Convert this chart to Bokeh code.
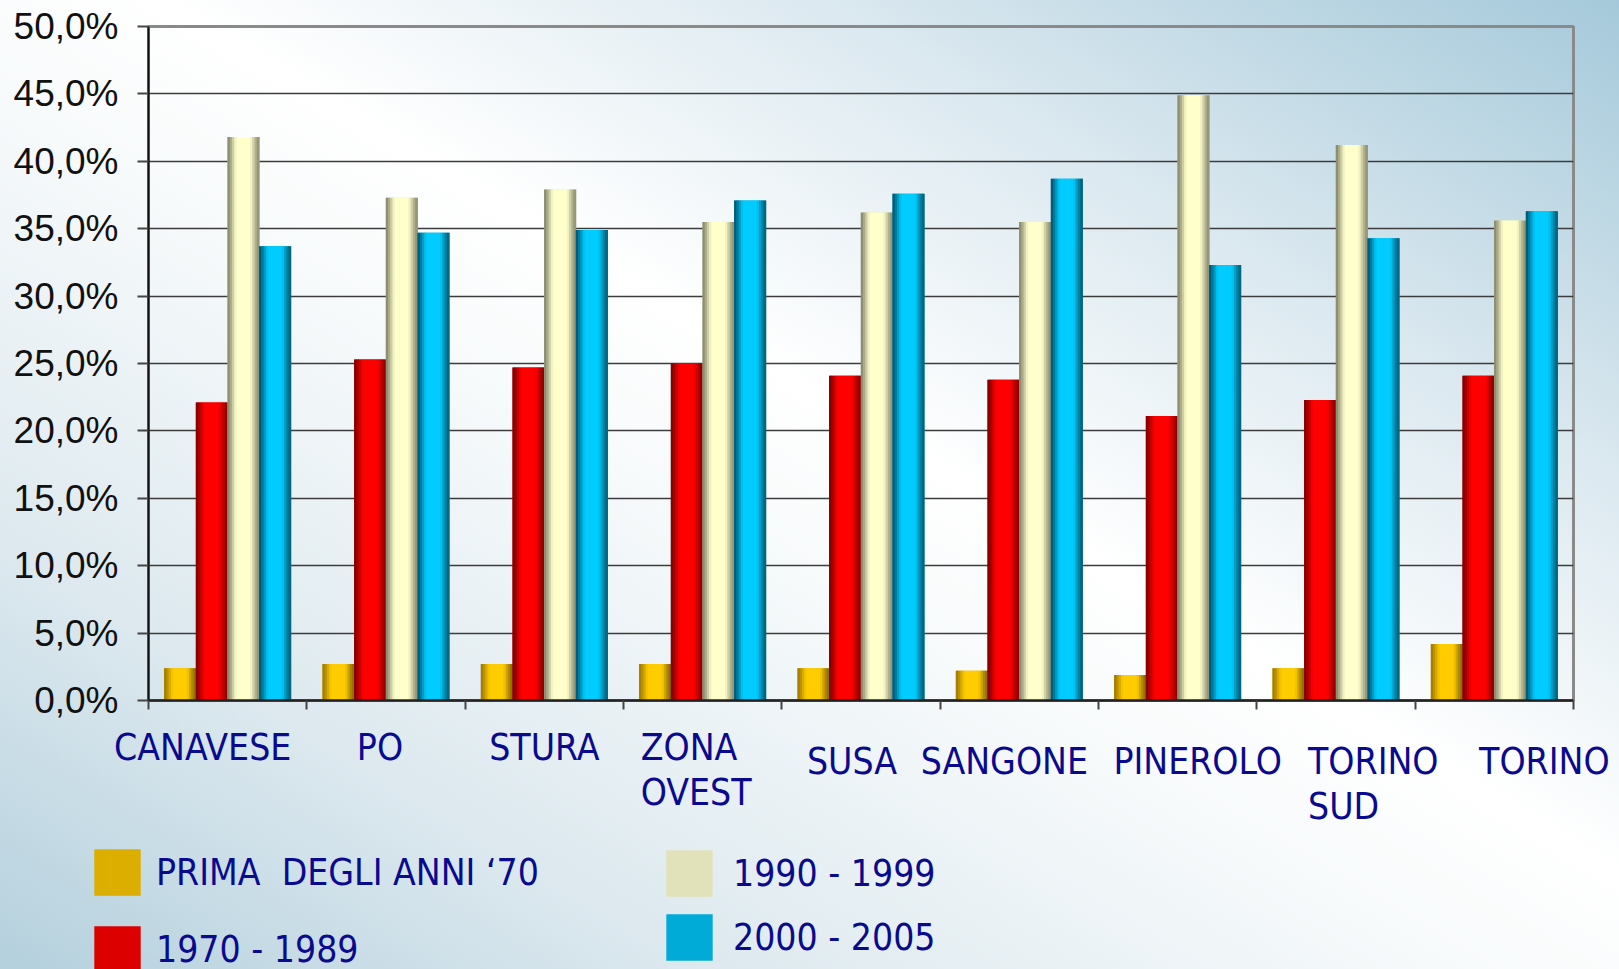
import numpy as np
from bokeh.plotting import figure
from bokeh.layouts import column
from bokeh.models import (ColumnDataSource, Range1d, FixedTicker, Legend, LegendItem,
                          CDSView, IndexFilter)
from bokeh.transform import dodge
from bokeh.embed import file_html
from bokeh.resources import INLINE

# ---------------- data ----------------
categories = ["CANAVESE", "PO", "STURA", "ZONA\nOVEST", "SUSA", "SANGONE",
              "PINEROLO", "TORINO\nSUD", "TORINO"]
series_names = ["PRIMA  DEGLI ANNI \u201870", "1970 - 1989", "1990 - 1999", "2000 - 2005"]
prima_anni_70 = [2.4, 2.7, 2.7, 2.7, 2.4, 2.2, 1.9, 2.4, 4.2]
anni_1970_1989 = [22.1, 25.3, 24.7, 25.0, 24.1, 23.8, 21.1, 22.3, 24.1]
anni_1990_1999 = [41.8, 37.3, 37.9, 35.5, 36.2, 35.5, 44.9, 41.2, 35.6]
anni_2000_2005 = [33.7, 34.7, 34.9, 37.1, 37.6, 38.7, 32.3, 34.3, 36.3]
y_ticks = [0, 5, 10, 15, 20, 25, 30, 35, 40, 45, 50]
y_tick_labels = ["0,0%", "5,0%", "10,0%", "15,0%", "20,0%", "25,0%",
                 "30,0%", "35,0%", "40,0%", "45,0%", "50,0%"]

# ---------------- styles / layout ----------------
W, H = 1619, 969
FRAME_L, FRAME_R, FRAME_T = 148, 46, 26
FRAME_H = 674
MAIN_H = 720                       # main chart canvas height
LOW_H = H - MAIN_H                 # lower strip: category names + legend
FRAME_W = W - FRAME_L - FRAME_R
NAVY = "#0a0a8f"
CAT_FONT = "DejaVu Sans Condensed, Liberation Sans Narrow, Liberation Sans, sans-serif"
BG = ("linear-gradient(to top right, #b4d0dd 0%, #dde9ef 22%, #f7fafb 45%, "
      "#ffffff 55%, #dce9f0 75%, #a5c9da 100%)")

n_cat = len(categories)
series_keys = ["s0", "s1", "s2", "s3"]
bar_offsets = [-0.3, -0.1, 0.1, 0.3]
bar_w = 0.2
center_col = [(255, 204, 0), (255, 0, 0), (255, 255, 204), (0, 204, 255)]
left_col = [(160, 120, 0), (125, 0, 0), (133, 133, 107), (0, 85, 112)]
right_col = [(138, 106, 0), (139, 0, 0), (142, 142, 114), (0, 96, 122)]
mid_col = ["#dcae00", "#dc0000", "#e2e2ba", "#00abd8"]

# label placement (pixels): horizontal shift from slot centre, top of text in lower strip
label_shift_px = [-25, -6, 0, -62, -9, -15, 20, -28, 50]
label_top_px = [5, 5, 5, 5, 19, 19, 19, 19, 19]
multi_line = [i for i, c in enumerate(categories) if "\n" in c]
single_line = [i for i, c in enumerate(categories) if "\n" not in c]

# category slot centres on a linear index scale (slot i spans [i, i+1])
x_center = [i + 0.5 for i in range(n_cat)]

src = ColumnDataSource(dict(
    x=x_center,
    s0=prima_anni_70, s1=anni_1970_1989, s2=anni_1990_1999, s3=anni_2000_2005,
))

# ================= main chart =================
p = figure(
    x_range=Range1d(0, n_cat), y_range=Range1d(0, 50),
    width=W, height=MAIN_H, output_backend="svg", toolbar_location=None,
    min_border_left=FRAME_L, min_border_right=FRAME_R,
    min_border_top=FRAME_T, min_border_bottom=MAIN_H - FRAME_T - FRAME_H,
)
p.frame_align = False
p.background_fill_alpha = 0
p.border_fill_alpha = 0
p.outline_line_color = "#8a8a8a"
p.outline_line_width = 3

yax = p.yaxis[0]
yax.ticker = FixedTicker(ticks=y_ticks)
yax.major_label_overrides = {t: l for t, l in zip(y_ticks, y_tick_labels)}
yax.major_label_text_font = "Liberation Sans"
yax.major_label_text_font_size = "37px"
yax.major_label_text_color = "#111111"
yax.major_label_standoff = 19
yax.major_tick_out = 11
yax.major_tick_in = 0
yax.minor_tick_out = 0
yax.minor_tick_in = 0
yax.axis_line_color = "#111111"
yax.axis_line_width = 2
yax.major_tick_line_color = "#444444"
yax.major_tick_line_width = 2

p.ygrid.ticker = FixedTicker(ticks=y_ticks)
p.ygrid.grid_line_color = "#3c3c3c"
p.ygrid.grid_line_width = 1.6
p.xgrid.grid_line_color = None

# x axis: tick marks at category boundaries (names are drawn in the strip below)
xax = p.xaxis[0]
xax.ticker = FixedTicker(ticks=list(range(n_cat + 1)))
xax.major_label_overrides = {i: "" for i in range(n_cat + 1)}
xax.major_tick_out = 9
xax.major_tick_in = 0
xax.minor_tick_out = 0
xax.minor_tick_in = 0
xax.axis_line_color = "#222222"
xax.axis_line_width = 2.5
xax.major_tick_line_color = "#444444"
xax.major_tick_line_width = 2

# bars with cylindrical shading
n_strips = 14
strip_w = bar_w / n_strips
for s, key in enumerate(series_keys):
    p.vbar(x=dodge("x", bar_offsets[s]), top=key, width=bar_w,
           source=src, fill_color=mid_col[s], line_color=None)
    for k in range(n_strips):
        t = (k + 0.5) / n_strips
        f = min(1.0, np.sin(np.pi * t) * 1.3) ** 1.4
        edge = left_col[s] if t < 0.5 else right_col[s]
        c = tuple(int(round(edge[i] + (center_col[s][i] - edge[i]) * f)) for i in range(3))
        col = "#%02x%02x%02x" % c
        off = bar_offsets[s] - bar_w / 2 + (k + 0.5) * strip_w
        p.vbar(x=dodge("x", off), top=key, width=strip_w * 1.25,
               source=src, fill_color=col, line_color=None)

# ================= lower strip: category names + legend =================
slot_px = FRAME_W / n_cat
q = figure(
    x_range=Range1d(-FRAME_L / slot_px, (W - FRAME_L) / slot_px),
    y_range=Range1d(LOW_H, 0),
    width=W, height=LOW_H, output_backend="svg", toolbar_location=None,
    x_axis_type=None, y_axis_type=None,
    min_border=0, min_border_left=0, min_border_right=0,
    min_border_top=0, min_border_bottom=0,
)
q.frame_align = False
q.background_fill_alpha = 0
q.border_fill_alpha = 0
q.outline_line_color = None
q.grid.visible = False

lab_src = ColumnDataSource(dict(
    x=x_center, y=label_top_px, text=categories, xo=label_shift_px,
))
common = dict(x="x", y="y", text="text", x_offset="xo", source=lab_src,
              text_baseline="top", text_font={"value": CAT_FONT},
              text_font_size="37px", text_color=NAVY, text_line_height=1.05)
q.text(view=CDSView(filter=IndexFilter(single_line)), text_align="center", **common)
q.text(view=CDSView(filter=IndexFilter(multi_line)), text_align="left", **common)

# legend swatch renderers (zero-height, only used for the legend glyphs)
swatches = [q.vbar(x="x", top=0, bottom=0, width=0, source=src,
                   fill_color=mid_col[i], line_color=None) for i in range(4)]

def make_legend(idx, vx, vy, spacing, standoff):
    items = [LegendItem(label=series_names[i], renderers=[swatches[i]]) for i in idx]
    return Legend(items=items, location=(vx, vy), orientation="vertical",
                  glyph_width=58, glyph_height=58, label_standoff=standoff, spacing=spacing,
                  padding=0, margin=0, border_line_color=None, background_fill_alpha=0,
                  label_text_font=CAT_FONT, label_text_font_size="37px",
                  label_text_color=NAVY)

q.add_layout(make_legend([0, 1], 88, -9, 19, 10))
q.add_layout(make_legend([2, 3], 660, 3, 6, 15))

page = column(p, q, spacing=0, styles={"background": BG})
open("out.html", "w").write(file_html(page, INLINE))
